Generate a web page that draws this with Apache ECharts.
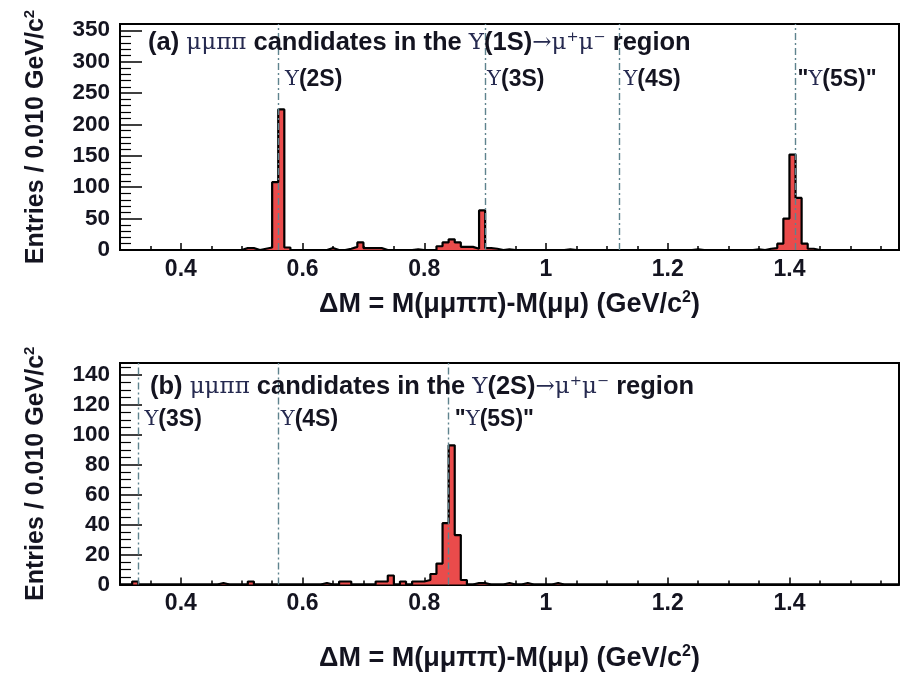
<!DOCTYPE html>
<html><head><meta charset="utf-8">
<script src="https://cdn.jsdelivr.net/npm/echarts@6/dist/echarts.min.js"></script>
<style>html,body{margin:0;padding:0;background:#fff}#c{width:907px;height:673px}</style>
</head><body><div id="c"></div>
<script>
// ---------- data ----------
const binWidth = 0.01;
const xMin = 0.30, xMax = 1.58;
const xTickLabels = [0.4, 0.6, 0.8, 1.0, 1.2, 1.4];

// panel (a): non-empty bins (bin low edge, entries)
const binLowA = [0.50,0.51,0.53,0.54,0.55,0.56,0.57,0.64,0.67,0.68,0.69,0.70,0.71,0.72,0.78,0.82,0.83,0.84,0.85,0.86,0.87,0.88,0.89,0.90,0.91,0.93,1.03,1.24,1.34,1.36,1.37,1.38,1.39,1.40,1.41,1.42,1.43];
const countsA = [3,3,2,4,108,224,4,3,2,5,12,3,3,3,1,6,12,17,12,5,5,2,63,3,2,1,1,1,1,2,3,10,50,152,83,10,2];

// panel (b)
const binLowB = [0.32,0.46,0.51,0.63,0.66,0.67,0.72,0.73,0.74,0.76,0.78,0.79,0.80,0.81,0.82,0.83,0.84,0.85,0.86,0.88,0.89,0.93,0.96,1.01];
const countsB = [2,1,2,1,2,2,2,2,6,2,2,2,3,7,14,41,93,33,3,1,1,1,1,1];

// resonance markers
const linesA = [0.563, 0.895, 1.119, 1.405];
const labelsA = ['Υ(2S)', 'Υ(3S)', 'Υ(4S)', '"Υ(5S)"'];
const linesB = [0.332, 0.556, 0.842];
const labelsB = ['Υ(3S)', 'Υ(4S)', '"Υ(5S)"'];

const yMaxA = 360, yIntA = 50;
const yMaxB = 148, yIntB = 20;

// ---------- build ----------
function buildHist(lows, counts) {
  const n = Math.round((xMax - xMin) / binWidth);
  const vals = new Array(n).fill(0);
  lows.forEach((x, i) => { vals[Math.round((x - xMin) / binWidth)] = counts[i]; });
  const pts = vals.map((v, k) => [+(xMin + k * binWidth).toFixed(2), v]);
  pts.push([xMax, vals[n - 1]]);
  return pts;
}
function toRich(s) {
  return s.split('Υ').map(p => p ? '{b|' + p + '}' : '').join('{g|Υ}');
}

const SANS = '"Liberation Sans", Arial, Helvetica, sans-serif';
const SERIF = '"DejaVu Serif", "Liberation Serif", serif';
const TXT = '#141420';
const GTXT = '#262a50';
const labRich = {
  b: { fontFamily: SANS, fontWeight: 'bold', fontSize: 23, color: TXT },
  g: { fontFamily: SERIF, fontWeight: 'normal', fontSize: 21, color: GTXT }
};
const titleRich = {
  b: { fontFamily: SANS, fontWeight: 'bold', fontSize: 25.5, color: TXT },
  g: { fontFamily: SERIF, fontWeight: 'normal', fontSize: 23, color: GTXT }
};

const grids = [
  { left: 120, right: 8, top: 24, height: 226 },
  { left: 120, right: 8, top: 363, height: 227 }
];

function xAxesFor(gi, nameGap) {
  return [{
    type: 'value', gridIndex: gi, min: xMin, max: xMax, position: 'bottom',
    axisLine: { show: true, lineStyle: { color: '#000', width: 2 } },
    axisTick: { show: true, inside: true, length: 7, customValues: xTickLabels, lineStyle: { color: '#000', width: 1.5 } },
    axisLabel: { customValues: xTickLabels, formatter: v => String(v), margin: 8,
      fontFamily: SANS, fontWeight: 'bold', fontSize: 23, color: TXT },
    splitLine: { show: false },
    name: '{t|ΔM = M(μμππ)-M(μμ) (GeV/c}{s|2}{t|)}',
    nameLocation: 'middle', nameGap: nameGap,
    nameTextStyle: { rich: {
      t: { fontFamily: SANS, fontWeight: 'bold', fontSize: 27, color: TXT },
      s: { fontFamily: SANS, fontWeight: 'bold', fontSize: 16, color: TXT, verticalAlign: 'top', padding: [0, 0, 14, 0] }
    } }
  }, {
    type: 'value', gridIndex: gi, min: xMin, max: xMax, interval: 0.05, position: 'bottom',
    axisLine: { show: false },
    axisTick: { show: true, inside: true, length: 4, lineStyle: { color: '#000', width: 1.5 } },
    axisLabel: { show: false }, splitLine: { show: false }
  }];
}
function yAxisFor(gi, max, interval, minorSplit) {
  return {
    type: 'value', gridIndex: gi, min: 0, max: max, interval: interval,
    axisLine: { show: true, lineStyle: { color: '#000', width: 2 } },
    axisTick: { show: true, inside: true, length: 22, lineStyle: { color: '#000', width: 1.5 } },
    minorTick: { show: true, splitNumber: minorSplit, length: 11, lineStyle: { color: '#000', width: 1.2 } },
    axisLabel: { showMaxLabel: false, margin: 10, fontFamily: SANS, fontWeight: 'bold', fontSize: 22.5, color: TXT },
    splitLine: { show: false }, minorSplitLine: { show: false },
    name: '{t|Entries / 0.010 GeV/c}{s|2}',
    nameLocation: 'middle', nameGap: 70,
    nameTextStyle: { rich: {
      t: { fontFamily: SANS, fontWeight: 'bold', fontSize: 25, color: TXT },
      s: { fontFamily: SANS, fontWeight: 'bold', fontSize: 15, color: TXT, verticalAlign: 'top', padding: [0, 0, 13, 0] }
    } }
  };
}
function histSeries(xi, yi, data, lines, labels, labelY) {
  return {
    type: 'line', xAxisIndex: xi, yAxisIndex: yi, data: data, step: 'end',
    symbol: 'none', silent: true, animation: false,
    lineStyle: { color: '#000', width: 2.2 },
    areaStyle: { color: '#ea4b4b', opacity: 1 },
    markLine: {
      silent: true, symbol: ['none', 'none'], animation: false,
      label: { show: false },
      lineStyle: { type: [7, 3, 2, 3], color: '#5f838e', width: 1.4 },
      data: lines.map(v => ({ xAxis: v }))
    },
    markPoint: {
      silent: true, animation: false, symbol: 'circle', symbolSize: 0,
      label: { show: true, position: 'right', distance: 5, formatter: p => toRich(p.name), rich: labRich },
      data: lines.map((v, i) => ({ name: labels[i], coord: [v, labelY] }))
    }
  };
}

const option = {
  animation: false,
  backgroundColor: '#fff',
  grid: grids.map(g => Object.assign({ show: true, borderColor: '#000', borderWidth: 2, backgroundColor: 'transparent' }, g)),
  title: [
    { text: '{b|(a) }{g|μμππ}{b| candidates in the }{g|Υ}{b|(1S)}{g|→μ⁺μ⁻}{b| region}', left: 148, top: 30, padding: 0, textStyle: { rich: titleRich } },
    { text: '{b|(b) }{g|μμππ}{b| candidates in the }{g|Υ}{b|(2S)}{g|→μ⁺μ⁻}{b| region}', left: 150, top: 374, padding: 0, textStyle: { rich: titleRich } }
  ],
  xAxis: [].concat(xAxesFor(0, 40), xAxesFor(1, 59)),
  yAxis: [yAxisFor(0, yMaxA, yIntA, 5), yAxisFor(1, yMaxB, yIntB, 4)],
  series: [
    histSeries(0, 0, buildHist(binLowA, countsA), linesA, labelsA, 271),
    histSeries(2, 1, buildHist(binLowB, countsB), linesB, labelsB, 110)
  ]
};
const chart = echarts.init(document.getElementById('c'), null, { renderer: 'canvas' });
chart.setOption(option);
</script>
</body></html>
